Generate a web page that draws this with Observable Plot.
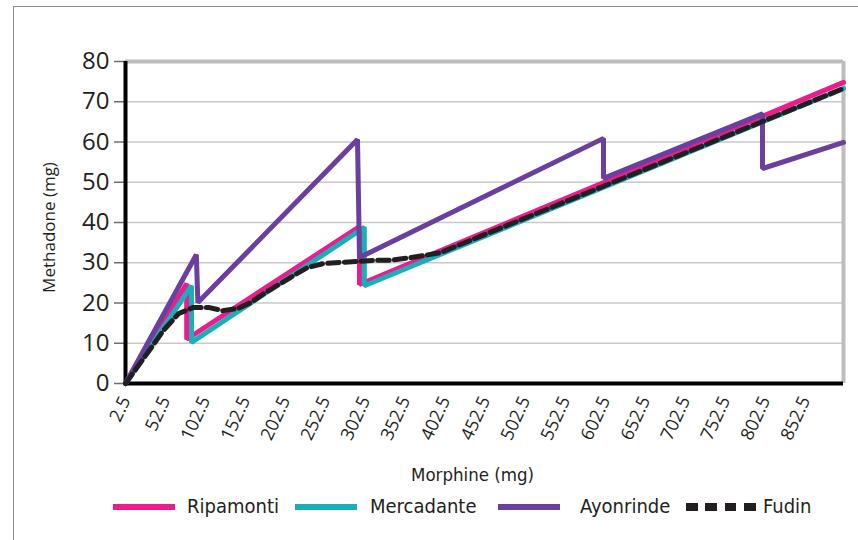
<!DOCTYPE html>
<html>
<head>
<meta charset="utf-8">
<script src="https://cdn.jsdelivr.net/npm/d3@7"></script>
<script src="https://cdn.jsdelivr.net/npm/@observablehq/plot@0.6"></script>
<style>
  html, body { margin: 0; padding: 0; background: #fff; width: 858px; height: 540px; overflow: hidden; }
  #frame { position: absolute; left: 13px; top: 6px; width: 900px; height: 600px; border: 1.5px solid #8c8c8c; box-sizing: border-box; }
  #chart { position: absolute; left: 0; top: 0; }
  #legend { position: absolute; left: 0; top: 490px; width: 858px; height: 50px; font-family: "Liberation Sans Narrow", "DejaVu Sans Condensed", sans-serif; font-size: 20px; color: #231f20; }
  .sw { position: absolute; top: 14px; height: 6px; }
  .lt { position: absolute; top: 4px; line-height: 24px; white-space: nowrap; }
</style>
</head>
<body>
<div id="frame"></div>
<div id="chart"></div>
<div id="legend"></div>
<script>
// ---- Data ----
const morphineTicks = [2.5, 52.5, 102.5, 152.5, 202.5, 252.5, 302.5, 352.5, 402.5, 452.5, 502.5, 552.5, 602.5, 652.5, 702.5, 752.5, 802.5, 852.5];
const methadoneTicks = [0, 10, 20, 30, 40, 50, 60, 70, 80];

const seriesNames = ["Ripamonti", "Mercadante", "Ayonrinde", "Fudin"];
const seriesColors = ["#ec1c8c", "#1aaeb8", "#6b3f9e", "#231f20"];

const ripamontiMg   = [2.5, 79, 79, 295, 295, 900];
const ripamontiMeth = [0, 24.8, 11.0, 39.0, 24.6, 74.8];

const mercadanteMg   = [2.5, 85, 85, 301, 301, 900];
const mercadanteMeth = [0, 24.3, 10.2, 38.8, 24.3, 73.3];

const ayonrindeMg   = [2.5, 91, 93, 292.5, 295, 600, 600, 798.75, 798.75, 900];
const ayonrindeMeth = [0, 32.0, 20.1, 60.6, 31.3, 60.9, 51.0, 67.0, 53.4, 59.9];

const fudinMg   = [2.5, 34, 50, 69, 87.5, 106, 124, 142.5, 159, 177.5, 196, 212.5, 230, 250, 271, 292.5, 312.5, 334, 360, 396, 900];
const fudinMeth = [0, 8.7, 13.2, 17.4, 18.9, 18.9, 18.1, 18.6, 20.1, 22.6, 24.8, 26.8, 28.8, 29.8, 30.1, 30.3, 30.6, 30.6, 31.3, 32.5, 73.3];

const toRows = (xs, ys) => xs.map((x, i) => ({morphine: x, methadone: ys[i]}));
const ripamonti = toRows(ripamontiMg, ripamontiMeth);
const mercadante = toRows(mercadanteMg, mercadanteMeth);
const ayonrinde = toRows(ayonrindeMg, ayonrindeMeth);
const fudin = toRows(fudinMg, fudinMeth);

const plot = Plot.plot({
  width: 858,
  height: 490,
  marginLeft: 125,
  marginRight: 15,
  marginTop: 61,
  marginBottom: 107,
  x: {domain: [2.5, 900]},
  y: {domain: [0, 80]},
  style: {fontFamily: "'Open Sans', sans-serif", color: "#231f20", background: "transparent", overflow: "visible"},
  marks: [
    Plot.gridY(methadoneTicks.filter(v => v > 0 && v < 80), {stroke: "#c8c8c8", strokeOpacity: 1, strokeWidth: 1.5}),
    Plot.ruleY([80], {stroke: "#bdbdbd", strokeWidth: 4}),
    Plot.ruleX([900], {stroke: "#bdbdbd", strokeWidth: 4}),
    Plot.axisY(methadoneTicks, {tickSize: 11, tickPadding: 5, fontSize: 24, label: null, stroke: "#6e6e6e", fill: "#231f20", strokeWidth: 1.5}),
    Plot.axisX(morphineTicks, {tickSize: 0, tickPadding: 14, tickRotate: -65, fontSize: 18, label: null, fill: "#231f20", tickFormat: d => String(d)}),
    Plot.ruleX([2.5], {stroke: "#000", strokeWidth: 4}),
    Plot.ruleY([0], {stroke: "#000", strokeWidth: 4}),
    Plot.line(ripamonti, {x: "morphine", y: "methadone", stroke: seriesColors[0], strokeWidth: 5, strokeLinejoin: "miter"}),
    Plot.line(mercadante, {x: "morphine", y: "methadone", stroke: seriesColors[1], strokeWidth: 5, strokeLinejoin: "miter"}),
    Plot.line(ayonrinde, {x: "morphine", y: "methadone", stroke: seriesColors[2], strokeWidth: 5, strokeLinejoin: "miter"}),
    Plot.line(fudin, {x: "morphine", y: "methadone", stroke: seriesColors[3], strokeWidth: 5, strokeDasharray: "11.5,5.2"}),
    Plot.text(["Methadone (mg)"], {frameAnchor: "left", textAnchor: "middle", rotate: -90, dx: -76, dy: 5, fontSize: 17, fill: "#231f20"}),
    Plot.text(["Morphine (mg)"], {frameAnchor: "bottom", textAnchor: "middle", lineAnchor: "middle", dx: -12, dy: 92, fontSize: 18.5, fill: "#231f20", fontFamily: "'Liberation Sans Narrow', 'DejaVu Sans Condensed', sans-serif"})
  ]
});
document.getElementById("chart").appendChild(plot);

// ---- Legend ----
const legend = document.getElementById("legend");
const swatchLeft = [113, 295, 498, 686];
const textLeft = [187, 370, 580, 763];
seriesNames.forEach((name, i) => {
  const sw = document.createElement("div");
  sw.className = "sw";
  sw.style.left = swatchLeft[i] + "px";
  if (i === 3) {
    sw.style.width = "70px";
    sw.style.height = "8px";
    sw.style.top = "13px";
    sw.style.background = `repeating-linear-gradient(90deg, ${seriesColors[i]} 0 11.6px, transparent 11.6px 19.3px)`;
  } else {
    sw.style.width = "62px";
    sw.style.background = seriesColors[i];
  }
  legend.appendChild(sw);
  const t = document.createElement("div");
  t.className = "lt";
  t.style.left = textLeft[i] + "px";
  t.textContent = name;
  legend.appendChild(t);
});
</script>
</body>
</html>
